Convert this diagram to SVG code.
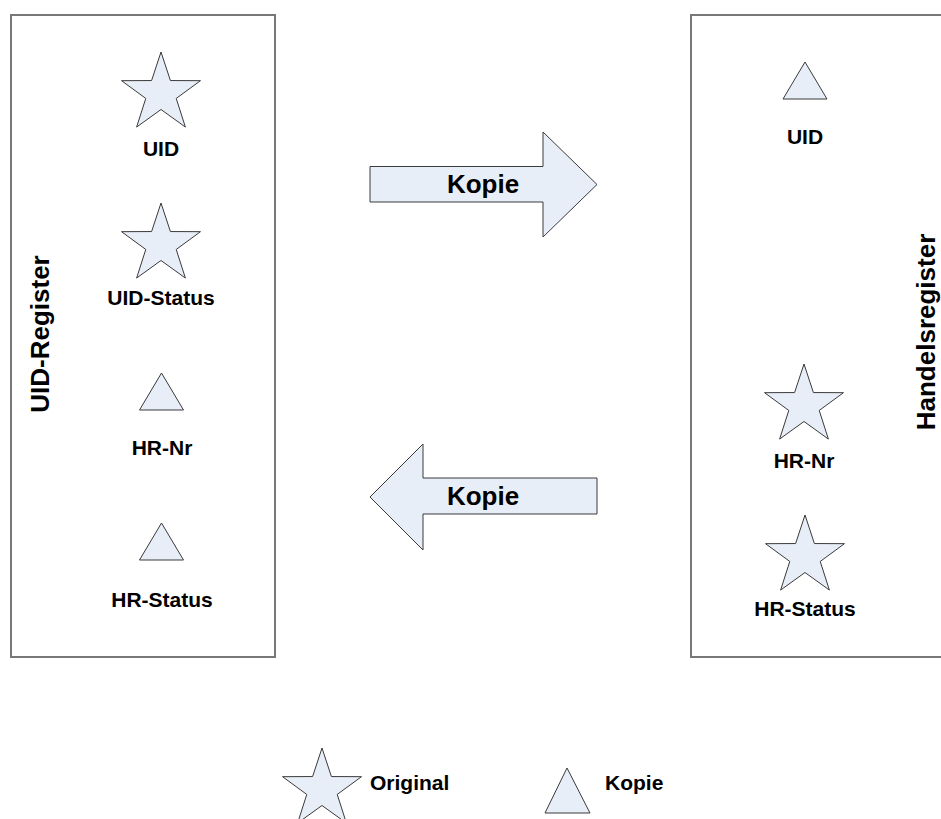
<svg xmlns="http://www.w3.org/2000/svg" xmlns:xlink="http://www.w3.org/1999/xlink" width="941" height="819" viewBox="0 0 941 819">
<style>
.box{fill:#fff;stroke:#787878;stroke-width:2}
.shape{fill:#E8EEF7;stroke:#3a3a3a;stroke-width:1}
.lbl{font-family:"Liberation Sans",Arial,sans-serif;font-weight:bold;font-size:21px;fill:#000;text-anchor:middle}
.big{font-family:"Liberation Sans",Arial,sans-serif;font-weight:bold;font-size:26px;fill:#000;text-anchor:middle}
.leg{font-family:"Liberation Sans",Arial,sans-serif;font-weight:bold;font-size:21px;fill:#000}
</style>
<defs>
<polygon id="star" points="0,-41.5 9.4,-12.94 39.47,-12.82 15.22,4.94 24.39,33.57 0,16 -24.39,33.57 -15.22,4.94 -39.47,-12.82 -9.4,-12.94"/>
<polygon id="tri" points="0,-18.5 22,18.5 -22,18.5"/>
</defs>
<rect width="941" height="819" fill="#fff"/>
<g id="uid-register">
<rect class="box" x="11" y="15" width="264" height="642"/>
<text class="big" transform="translate(49,334) rotate(-90)">UID-Register</text>
</g>
<g id="handelsregister">
<rect class="box" x="691" y="15" width="260" height="642"/>
<text class="big" transform="translate(935,332) rotate(-90)">Handelsregister</text>
</g>
<g id="left-uid">
<use xlink:href="#star" class="shape" x="161" y="93.5"/>
<text class="lbl" x="161" y="155.5">UID</text>
</g>
<g id="left-uid-status">
<use xlink:href="#star" class="shape" x="161" y="244.5"/>
<text class="lbl" x="161" y="304.5">UID-Status</text>
</g>
<g id="left-hr-nr">
<use xlink:href="#tri" class="shape" x="161.5" y="391.5"/>
<text class="lbl" x="162" y="455">HR-Nr</text>
</g>
<g id="left-hr-status">
<use xlink:href="#tri" class="shape" x="161.5" y="541.5"/>
<text class="lbl" x="162" y="607">HR-Status</text>
</g>
<g id="right-uid">
<use xlink:href="#tri" class="shape" x="805" y="80.5"/>
<text class="lbl" x="805" y="143.5">UID</text>
</g>
<g id="right-hr-nr">
<use xlink:href="#star" class="shape" x="804" y="405.5"/>
<text class="lbl" x="804" y="467.5">HR-Nr</text>
</g>
<g id="right-hr-status">
<use xlink:href="#star" class="shape" x="805" y="556.5"/>
<text class="lbl" x="805" y="615.5">HR-Status</text>
</g>
<g id="connectors">
<g id="copy-right">
<path class="shape" d="M370,166.5 H543 V132 L597,184.5 L543,237 V202 H370 Z"/>
<text class="big" x="483" y="193">Kopie</text>
</g>
<g id="copy-left">
<path class="shape" d="M370,497 L423,444 V478 H597 V514 H423 V550 Z"/>
<text class="big" x="483" y="505">Kopie</text>
</g>
</g>
<g id="legend-original">
<use xlink:href="#star" class="shape" x="322" y="789.5"/>
<text class="leg" x="370" y="790">Original</text>
</g>
<g id="legend-kopie">
<polygon class="shape" points="567,768 590,813 545,813"/>
<text class="leg" x="605" y="790">Kopie</text>
</g>
</svg>
